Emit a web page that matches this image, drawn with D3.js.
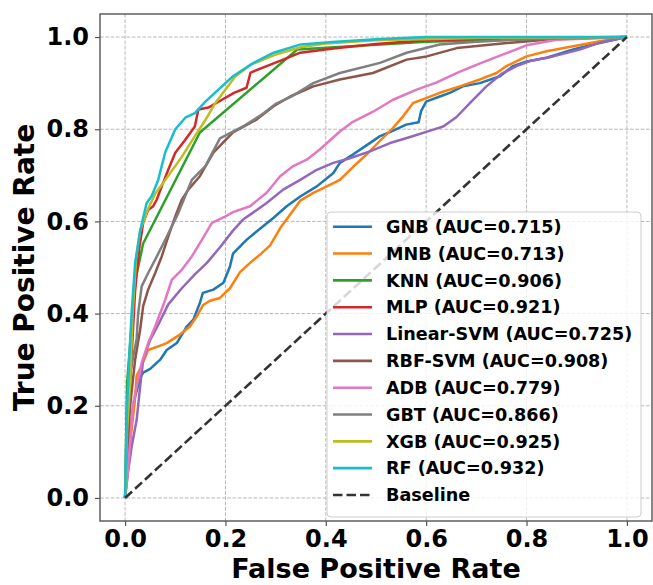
<!DOCTYPE html>
<html>
<head>
<meta charset="utf-8">
<script src="https://cdn.jsdelivr.net/npm/d3@7/dist/d3.min.js"></script>
<style>
  html, body { margin: 0; padding: 0; background: #fff; }
  svg { display: block; }
  text { font-family: "DejaVu Sans", sans-serif; font-weight: bold; }
</style>
</head>
<body>
<svg id="chart" width="653" height="585"></svg>
<script>
// ---------- data (FPR, TPR) ----------
const xTicks = [0.0, 0.2, 0.4, 0.6, 0.8, 1.0];
const yTicks = [0.0, 0.2, 0.4, 0.6, 0.8, 1.0];

const modelNames = ["GNB", "MNB", "KNN", "MLP", "Linear-SVM", "RBF-SVM", "ADB", "GBT", "XGB", "RF"];
const aucValues = [0.715, 0.713, 0.906, 0.921, 0.725, 0.908, 0.779, 0.866, 0.925, 0.932];
const colors = ["#1f77b4", "#ff7f0e", "#2ca02c", "#d62728", "#9467bd", "#8c564b", "#e377c2", "#7f7f7f", "#bcbd22", "#17becf"];

const GNB = [[0,0],[0.005,0.08],[0.012,0.16],[0.02,0.22],[0.03,0.26],[0.036,0.272],[0.05,0.28],[0.07,0.30],[0.083,0.321],[0.103,0.336],[0.123,0.372],[0.136,0.387],[0.149,0.423],[0.155,0.445],[0.176,0.452],[0.196,0.467],[0.209,0.502],[0.215,0.53],[0.242,0.56],[0.262,0.578],[0.296,0.608],[0.322,0.633],[0.349,0.654],[0.382,0.676],[0.415,0.705],[0.428,0.727],[0.454,0.745],[0.481,0.765],[0.508,0.785],[0.53,0.795],[0.56,0.81],[0.585,0.815],[0.59,0.84],[0.6,0.86],[0.627,0.871],[0.647,0.879],[0.673,0.893],[0.707,0.9],[0.747,0.915],[0.773,0.937],[0.8,0.947],[0.84,0.955],[0.893,0.973],[0.932,0.984],[1,1]];
const MNB = [[0,0],[0.005,0.06],[0.01,0.12],[0.016,0.177],[0.02,0.22],[0.023,0.265],[0.03,0.28],[0.036,0.295],[0.046,0.321],[0.066,0.329],[0.083,0.336],[0.11,0.355],[0.129,0.372],[0.143,0.394],[0.155,0.418],[0.169,0.428],[0.189,0.434],[0.209,0.455],[0.229,0.49],[0.249,0.51],[0.269,0.528],[0.289,0.548],[0.309,0.585],[0.329,0.615],[0.349,0.645],[0.375,0.662],[0.402,0.676],[0.428,0.69],[0.454,0.718],[0.481,0.745],[0.508,0.775],[0.534,0.803],[0.554,0.828],[0.574,0.857],[0.601,0.868],[0.627,0.879],[0.667,0.893],[0.707,0.908],[0.74,0.922],[0.76,0.937],[0.8,0.958],[0.84,0.969],[0.893,0.98],[0.946,0.991],[1,1]];
const KNN = [[0,0],[0.004,0.25],[0.02,0.47],[0.036,0.552],[0.149,0.793],[0.343,0.973],[0.6,0.99],[1,1]];
const MLP = [[0,0],[0.005,0.15],[0.01,0.25],[0.015,0.35],[0.02,0.45],[0.028,0.54],[0.036,0.597],[0.046,0.625],[0.056,0.633],[0.063,0.647],[0.073,0.676],[0.086,0.712],[0.1,0.749],[0.12,0.777],[0.139,0.806],[0.146,0.843],[0.166,0.847],[0.193,0.864],[0.217,0.879],[0.242,0.89],[0.25,0.923],[0.282,0.937],[0.315,0.951],[0.349,0.966],[0.415,0.975],[0.5,0.985],[0.6,0.993],[0.8,0.998],[1,1]];
const LinearSVM = [[0,0],[0.005,0.05],[0.013,0.111],[0.023,0.169],[0.03,0.242],[0.036,0.30],[0.05,0.343],[0.068,0.38],[0.086,0.42],[0.113,0.455],[0.139,0.485],[0.163,0.51],[0.19,0.545],[0.215,0.58],[0.235,0.604],[0.255,0.619],[0.282,0.64],[0.315,0.669],[0.349,0.69],[0.382,0.712],[0.415,0.727],[0.448,0.737],[0.488,0.752],[0.528,0.77],[0.568,0.783],[0.608,0.797],[0.634,0.806],[0.66,0.826],[0.69,0.86],[0.72,0.893],[0.75,0.92],[0.78,0.937],[0.807,0.948],[0.853,0.958],[0.906,0.973],[0.946,0.988],[1,1]];
const RBFSVM = [[0,0],[0.005,0.1],[0.01,0.2],[0.02,0.30],[0.03,0.365],[0.036,0.416],[0.046,0.452],[0.06,0.488],[0.073,0.524],[0.086,0.567],[0.1,0.611],[0.113,0.647],[0.126,0.669],[0.149,0.698],[0.176,0.749],[0.215,0.793],[0.262,0.821],[0.296,0.85],[0.329,0.871],[0.375,0.893],[0.428,0.908],[0.494,0.922],[0.561,0.951],[0.601,0.958],[0.661,0.976],[0.761,0.987],[0.85,0.995],[1,1]];
const ADB = [[0,0],[0.005,0.05],[0.01,0.12],[0.015,0.2],[0.026,0.256],[0.033,0.293],[0.046,0.336],[0.06,0.372],[0.08,0.43],[0.093,0.473],[0.113,0.495],[0.133,0.524],[0.153,0.56],[0.173,0.597],[0.2,0.611],[0.215,0.62],[0.249,0.633],[0.282,0.662],[0.309,0.698],[0.335,0.72],[0.362,0.734],[0.388,0.756],[0.428,0.795],[0.454,0.816],[0.494,0.838],[0.534,0.864],[0.581,0.886],[0.62,0.901],[0.665,0.924],[0.71,0.944],[0.76,0.965],[0.8,0.982],[0.86,0.994],[1,1]];
const GBT = [[0,0],[0.003,0.15],[0.008,0.25],[0.015,0.3],[0.023,0.345],[0.026,0.40],[0.033,0.459],[0.046,0.488],[0.06,0.517],[0.08,0.56],[0.106,0.618],[0.133,0.69],[0.16,0.72],[0.189,0.78],[0.235,0.806],[0.27,0.83],[0.3,0.855],[0.33,0.87],[0.375,0.9],[0.428,0.922],[0.508,0.944],[0.561,0.966],[0.627,0.984],[0.7,0.99],[0.8,0.995],[1,1]];
const XGB = [[0,0],[0.004,0.15],[0.01,0.25],[0.015,0.40],[0.022,0.52],[0.03,0.58],[0.045,0.625],[0.06,0.66],[0.08,0.69],[0.113,0.74],[0.139,0.785],[0.16,0.82],[0.18,0.857],[0.2,0.886],[0.22,0.915],[0.25,0.94],[0.3,0.962],[0.35,0.978],[0.4,0.986],[0.5,0.993],[0.7,0.998],[1,1]];
const RF = [[0,0],[0.004,0.2],[0.008,0.3],[0.013,0.40],[0.02,0.51],[0.03,0.58],[0.043,0.64],[0.053,0.655],[0.066,0.69],[0.08,0.75],[0.10,0.80],[0.12,0.825],[0.139,0.835],[0.16,0.86],[0.18,0.88],[0.215,0.915],[0.256,0.944],[0.296,0.966],[0.35,0.984],[0.42,0.99],[0.5,0.995],[0.6,1.0],[1,1]];
const Baseline = [[0,0],[1,1]];

const seriesData = [GNB, MNB, KNN, MLP, LinearSVM, RBFSVM, ADB, GBT, XGB, RF];

// ---------- layout ----------
const svg = d3.select("#chart");
const plot = { left: 100, right: 652, top: 14, bottom: 521 };
const x = d3.scaleLinear().domain([-0.05, 1.05]).range([plot.left, plot.right]);
const y = d3.scaleLinear().domain([-0.05, 1.05]).range([plot.bottom, plot.top]);

// grid
const grid = svg.append("g");
grid.selectAll("line.gx").data(xTicks).enter().append("line")
  .attr("x1", d => x(d)).attr("x2", d => x(d))
  .attr("y1", plot.top).attr("y2", plot.bottom)
  .attr("stroke", "#b8b8b8").attr("stroke-width", 1).attr("stroke-dasharray", "3.7,1.6");
grid.selectAll("line.gy").data(yTicks).enter().append("line")
  .attr("y1", d => y(d)).attr("y2", d => y(d))
  .attr("x1", plot.left).attr("x2", plot.right)
  .attr("stroke", "#b8b8b8").attr("stroke-width", 1).attr("stroke-dasharray", "3.7,1.6");

// curves
const line = d3.line().x(d => x(d[0])).y(d => y(d[1]));
const curves = svg.append("g");
seriesData.forEach((s, i) => {
  curves.append("path").attr("d", line(s))
    .attr("fill", "none").attr("stroke", colors[i])
    .attr("stroke-width", 2.5).attr("stroke-linejoin", "round");
});
curves.append("path").attr("d", line(Baseline))
  .attr("fill", "none").attr("stroke", "#333").attr("stroke-width", 2.6)
  .attr("stroke-dasharray", "9.5,4");

// axes
const xAxis = d3.axisBottom(x).tickValues(xTicks).tickFormat(d3.format(".1f")).tickSize(5).tickPadding(4);
const yAxis = d3.axisLeft(y).tickValues(yTicks).tickFormat(d3.format(".1f")).tickSize(5).tickPadding(6);
const gx = svg.append("g").attr("transform", `translate(0,${plot.bottom})`).call(xAxis);
const gy = svg.append("g").attr("transform", `translate(${plot.left},0)`).call(yAxis);
[gx, gy].forEach(g => {
  g.select(".domain").remove();
  g.selectAll(".tick line").attr("stroke", "#555").attr("stroke-width", 1.2);
  g.selectAll(".tick text").attr("fill", "#000").style("font-size", "24px")
    .style("font-family", "'DejaVu Sans', sans-serif").style("font-weight", "bold");
});

// frame
svg.append("rect").attr("x", plot.left).attr("y", plot.top)
  .attr("width", plot.right - plot.left).attr("height", plot.bottom - plot.top)
  .attr("fill", "none").attr("stroke", "#555").attr("stroke-width", 1.4);

// axis labels
svg.append("text").attr("x", (plot.left + plot.right) / 2).attr("y", 578)
  .attr("text-anchor", "middle").style("font-size", "27px").text("False Positive Rate");
svg.append("text").attr("transform", `translate(34,${(plot.top + plot.bottom) / 2}) rotate(-90)`)
  .attr("text-anchor", "middle").style("font-size", "28px").text("True Positive Rate");

// legend
const legend = svg.append("g");
legend.append("rect").attr("x", 327).attr("y", 212).attr("width", 314).attr("height", 305)
  .attr("rx", 4).attr("fill", "#fff").attr("fill-opacity", 0.8)
  .attr("stroke", "#cccccc").attr("stroke-width", 1);
const legendLabels = modelNames.map((n, i) => `${n} (AUC=${aucValues[i].toFixed(3)})`).concat(["Baseline"]);
const legendColors = colors.concat(["#333"]);
legendLabels.forEach((lab, i) => {
  const cy = 226.7 + i * 26.83;
  legend.append("line").attr("x1", 333).attr("x2", 372).attr("y1", cy).attr("y2", cy)
    .attr("stroke", legendColors[i]).attr("stroke-width", 2.6)
    .attr("stroke-dasharray", i === 10 ? "9.5,4" : null);
  legend.append("text").attr("x", 386).attr("y", cy + 6.3)
    .style("font-size", "17.6px").attr("fill", "#000").text(lab);
});
</script>
</body>
</html>
